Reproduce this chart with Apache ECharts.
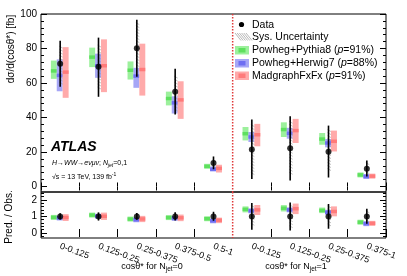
<!DOCTYPE html>
<html><head><meta charset="utf-8">
<script src="https://cdn.jsdelivr.net/npm/echarts@6/dist/echarts.min.js"></script>
<style>html,body{margin:0;padding:0;background:#fff}#c{width:407px;height:276px}</style>
</head><body><div id="c"></div>
<script>
const categories = ['0-0.125','0.125-0.25','0.25-0.375','0.375-0.5','0.5-1','0-0.125','0.125-0.25','0.25-0.375','0.375-1'];
const dataVal   = [71.2, 69.4, 80.2, 54.9, 13.6, 21.5, 22.1, 20.2, 10.3];
const dataErrLo = [57.8, 52.0, 63.6, 41.7, 10.0, 4.3, 3.5, 5.2, 5.8];
const dataErrHi = [84.5, 86.3, 96.7, 68.3, 17.4, 38.8, 40.7, 35.3, 15.0];
const sysLo     = [58.0, 55.0, 68.0, 43.6, 10.7, 6.8, 5.8, 8.0, 6.8];
const sysHi     = [81.4, 82.0, 95.0, 64.0, 15.5, 35.9, 37.8, 33.0, 13.8];
const pythiaC   = [67.0, 75.0, 67.4, 51.0, 11.7, 30.6, 33.0, 27.5, 6.7];
const pythiaLo  = [62.4, 69.2, 62.0, 47.0, 10.3, 26.7, 28.7, 24.2, 5.5];
const pythiaHi  = [73.0, 80.5, 72.5, 55.0, 13.0, 34.5, 37.2, 31.0, 7.8];
const herwigC   = [64.4, 70.0, 64.0, 48.5, 10.0, 28.7, 30.8, 25.2, 5.8];
const herwigLo  = [55.2, 63.0, 57.2, 42.3, 8.7, 25.8, 27.7, 22.7, 4.5];
const herwigHi  = [73.7, 77.0, 68.8, 52.3, 11.6, 31.6, 34.0, 27.5, 7.2];
const madC      = [66.3, 70.0, 67.8, 50.2, 10.5, 30.0, 32.4, 26.2, 6.0];
const madLo     = [51.4, 54.7, 52.7, 39.2, 8.1, 23.3, 25.2, 20.3, 4.5];
const madHi     = [80.8, 85.3, 82.8, 61.0, 12.6, 36.3, 39.2, 32.4, 7.2];
const mainLabels = [0, 20, 40, 60, 80, 100];
const mainMinor = [0,4,8,12,16,20,24,28,32,36,40,44,48,52,56,60,64,68,72,76,80,84,88,92,96,100];
const ratioLabels = [0, 1, 2];
const ratioMinor = [-0.2,0,0.2,0.4,0.6,0.8,1,1.2,1.4,1.6,1.8,2,2.2,2.4];

const FONT = 'Liberation Sans, Arial, Helvetica, sans-serif';
const COL = {
  g: ['#9cf09c', '#5ee05e'],
  b: ['#a6a6f6', '#6e6ef2'],
  r: ['#ffaaaa', '#ff7a7a']
};
const rel = (arr) => arr.map((v, i) => v / dataVal[i]);

function boxSeries(xi, yi, lo, hi, c, off, cols) {
  return {
    type: 'custom', xAxisIndex: xi, yAxisIndex: yi, z: 2,
    data: categories.map((_, i) => [i, lo[i], hi[i], c[i]]),
    encode: { x: 0, y: [1, 2, 3] },
    renderItem: (params, api) => {
      const i = api.value(0);
      const bw = api.size([1, 0])[0];
      const p = api.coord([i, api.value(2)]);
      const q = api.coord([i, api.value(1)]);
      const m = api.coord([i, api.value(3)]);
      const w = bw * 0.155;
      const x = p[0] + bw * off - w / 2;
      const strip = 3.5;
      let y0 = p[1], h = q[1] - p[1];
      if (h < strip + 1.5) { y0 = m[1] - (strip + 1.5) / 2; h = strip + 1.5; }
      return { type: 'group', children: [
        { type: 'rect', shape: { x: x, y: y0, width: w, height: h }, style: { fill: cols[0] } },
        { type: 'rect', shape: { x: x, y: m[1] - strip / 2, width: w, height: strip }, style: { fill: cols[1] } }
      ]};
    }
  };
}
function sysSeries(xi, yi, lo, hi) {
  return {
    type: 'custom', xAxisIndex: xi, yAxisIndex: yi, z: 3,
    data: categories.map((_, i) => [i, lo[i], hi[i]]),
    encode: { x: 0, y: [1, 2] },
    renderItem: (params, api) => {
      const i = api.value(0);
      const p = api.coord([i, api.value(2)]);
      const q = api.coord([i, api.value(1)]);
      const ch = [];
      for (let y = p[1] + 1; y <= q[1] - 1; y += 3) {
        ch.push({ type: 'line', shape: { x1: p[0] - 1, y1: y - 1, x2: p[0] + 2.5, y2: y + 1 },
          style: { stroke: '#999', lineWidth: 0.6 } });
      }
      return { type: 'group', children: ch };
    }
  };
}
function errSeries(xi, yi, lo, hi) {
  return {
    type: 'custom', xAxisIndex: xi, yAxisIndex: yi, z: 4,
    data: categories.map((_, i) => [i, lo[i], hi[i]]),
    encode: { x: 0, y: [1, 2] },
    renderItem: (params, api) => {
      const i = api.value(0);
      const p = api.coord([i, api.value(2)]);
      const q = api.coord([i, api.value(1)]);
      return { type: 'line', shape: { x1: p[0], y1: p[1], x2: q[0], y2: q[1] },
        style: { stroke: '#000', lineWidth: 1.6 } };
    }
  };
}
function dashSeries(xi, yi) {
  return {
    type: 'custom', xAxisIndex: xi, yAxisIndex: yi, z: 6,
    data: [[4]],
    encode: { x: 0 },
    renderItem: (params, api) => {
      const bw = api.size([1, 0])[0];
      const c = api.coord([api.value(0), 0]);
      const x = c[0] + bw / 2;
      const cs = params.coordSys;
      return { type: 'line', shape: { x1: x, y1: cs.y, x2: x, y2: cs.y + cs.height },
        style: { stroke: '#e03a3a', lineWidth: 1.5, lineDash: [1.5, 1.5] } };
    }
  };
}

const tickIntervalFn = (idx) => idx !== 5;
function xAx(gi, pos, showLabel) {
  return {
    type: 'category', gridIndex: gi, position: pos, data: categories, boundaryGap: true,
    axisLine: { show: false },
    axisTick: { show: true, inside: true, length: 4, interval: tickIntervalFn, lineStyle: { color: '#000', width: 1 } },
    axisLabel: showLabel ? { show: true, rotate: -20, fontSize: 9, color: '#000', fontFamily: FONT, margin: 8, interval: 0 } : { show: false },
    splitLine: { show: false }
  };
}
function yAx(gi, pos, min, max, ticks, len, labels) {
  return {
    type: 'value', gridIndex: gi, position: pos, min: min, max: max,
    axisLine: { show: false },
    axisTick: { show: true, inside: true, length: len, customValues: ticks, lineStyle: { color: '#000', width: 1 } },
    axisLabel: labels ? { show: true, customValues: labels, fontSize: 10, color: '#000', fontFamily: FONT, margin: 4 } : { show: false },
    splitLine: { show: false }
  };
}

const chart = echarts.init(document.getElementById('c'), null, { renderer: 'canvas' });
const grids = [
  { left: 41, right: 21, top: 14, height: 178, show: true, borderColor: '#000', borderWidth: 1, backgroundColor: 'transparent' },
  { left: 41, right: 21, top: 192, height: 46, show: true, borderColor: '#000', borderWidth: 1, backgroundColor: 'transparent' }
];
const xAxes = [xAx(0, 'bottom', false), xAx(0, 'top', false), xAx(1, 'top', false), xAx(1, 'bottom', true)];
const yAxes = [
  yAx(0, 'left', -3.2, 100, mainLabels, 6, mainLabels),
  yAx(0, 'left', -3.2, 100, mainMinor, 3, null),
  yAx(0, 'right', -3.2, 100, mainLabels, 6, null),
  yAx(0, 'right', -3.2, 100, mainMinor, 3, null),
  yAx(1, 'left', -0.3, 2.47, ratioLabels, 6, ratioLabels),
  yAx(1, 'left', -0.3, 2.47, ratioMinor, 3, null),
  yAx(1, 'right', -0.3, 2.47, ratioLabels, 6, null),
  yAx(1, 'right', -0.3, 2.47, ratioMinor, 3, null)
];
const ones = dataVal.map(() => 1);
const series = [
  boxSeries(0, 0, pythiaLo, pythiaHi, pythiaC, -0.165, COL.g),
  boxSeries(0, 0, herwigLo, herwigHi, herwigC, -0.012, COL.b),
  boxSeries(0, 0, madLo, madHi, madC, 0.143, COL.r),
  sysSeries(0, 0, sysLo, sysHi),
  errSeries(0, 0, dataErrLo, dataErrHi),
  { type: 'scatter', xAxisIndex: 0, yAxisIndex: 0, z: 5, symbol: 'circle', symbolSize: 6,
    itemStyle: { color: '#000' }, data: dataVal.map((v, i) => [i, v]) },
  dashSeries(0, 0),
  boxSeries(3, 4, rel(pythiaLo), rel(pythiaHi), rel(pythiaC), -0.165, COL.g),
  boxSeries(3, 4, rel(herwigLo), rel(herwigHi), rel(herwigC), -0.012, COL.b),
  boxSeries(3, 4, rel(madLo), rel(madHi), rel(madC), 0.143, COL.r),
  sysSeries(3, 4, rel(sysLo), rel(sysHi)),
  errSeries(3, 4, rel(dataErrLo), rel(dataErrHi)),
  { type: 'scatter', xAxisIndex: 3, yAxisIndex: 4, z: 5, symbol: 'circle', symbolSize: 6,
    itemStyle: { color: '#000' }, data: ones.map((v, i) => [i, v]) },
  dashSeries(3, 4)
];

const legendY = [50.5, 63.5, 76];
const legendNames = ['Powheg+Pythia8 ({it|p}=91%)', 'Powheg+Herwig7 ({it|p}=88%)', 'MadgraphFxFx ({it|p}=91%)'];
const legendCols = [COL.g, COL.b, COL.r];
const graphic = [];
graphic.push({ type: 'circle', shape: { cx: 241.5, cy: 24.5, r: 2.6 }, style: { fill: '#000' }, z: 10 });
graphic.push({ type: 'text', x: 252, y: 25, style: { text: 'Data', font: '10.5px ' + FONT, fill: '#000', verticalAlign: 'middle' }, z: 10 });
for (let k = 0; k < 6; k++) {
  graphic.push({ type: 'line', shape: { x1: 235 + k * 2.2, y1: 33, x2: 241 + k * 2.2, y2: 40.5 }, style: { stroke: '#888', lineWidth: 0.6 }, z: 10 });
}
graphic.push({ type: 'text', x: 252, y: 37.5, style: { text: 'Sys. Uncertainty', font: '10.5px ' + FONT, fill: '#000', verticalAlign: 'middle' }, z: 10 });
legendY.forEach((y, k) => {
  graphic.push({ type: 'rect', shape: { x: 235, y: y - 4.5, width: 14, height: 8.5 }, style: { fill: legendCols[k][0] }, z: 10 });
  graphic.push({ type: 'rect', shape: { x: 238.5, y: y - 2.5, width: 7, height: 4.5 }, style: { fill: legendCols[k][1] }, z: 10 });
  graphic.push({ type: 'text', x: 252, y: y, style: { text: legendNames[k], fontSize: 10.5, fontFamily: FONT, fill: '#000', verticalAlign: 'middle',
    rich: { it: { fontStyle: 'italic', fontSize: 10.5, fontFamily: FONT } } }, z: 10 });
});
graphic.push({ type: 'text', x: 11, y: 49, rotation: Math.PI / 2,
  style: { text: 'dσ/d(cosθ*) [fb]', font: '10px ' + FONT, fill: '#000', align: 'center', verticalAlign: 'middle' }, z: 10 });
graphic.push({ type: 'text', x: 9, y: 217, rotation: Math.PI / 2,
  style: { text: 'Pred. / Obs.', font: '10px ' + FONT, fill: '#000', align: 'center', verticalAlign: 'middle' }, z: 10 });
graphic.push({ type: 'text', x: 51, y: 147,
  style: { text: 'ATLAS', font: 'italic bold 14px ' + FONT, fill: '#000', verticalAlign: 'middle' }, z: 10 });
graphic.push({ type: 'text', x: 52, y: 163.5,
  style: { text: '{i|H→WW→eνμν}; {i|N}{sub|jet}=0,1', fontSize: 7, fontFamily: FONT, fill: '#000', verticalAlign: 'middle',
    rich: { i: { fontStyle: 'italic', fontSize: 7, fontFamily: FONT }, sub: { fontStyle: 'italic', fontSize: 5, fontFamily: FONT, padding: [4, 0, 0, 0] } } }, z: 10 });
graphic.push({ type: 'text', x: 52, y: 177,
  style: { text: '√s = 13 TeV, 139 fb{sup|-1}', fontSize: 7, fontFamily: FONT, fill: '#000', verticalAlign: 'middle',
    rich: { sup: { fontSize: 5, fontFamily: FONT, padding: [0, 0, 4, 0] } } }, z: 10 });
graphic.push({ type: 'text', x: 152, y: 267,
  style: { text: 'cosθ* for N{sub|jet}=0', fontSize: 9, fontFamily: FONT, fill: '#000', align: 'center', verticalAlign: 'middle',
    rich: { sub: { fontSize: 6.5, fontFamily: FONT, padding: [4, 0, 0, 0] } } }, z: 10 });
graphic.push({ type: 'text', x: 296, y: 267,
  style: { text: 'cosθ* for N{sub|jet}=1', fontSize: 9, fontFamily: FONT, fill: '#000', align: 'center', verticalAlign: 'middle',
    rich: { sub: { fontSize: 6.5, fontFamily: FONT, padding: [4, 0, 0, 0] } } }, z: 10 });

chart.setOption({
  animation: false,
  backgroundColor: '#fff',
  textStyle: { fontFamily: FONT },
  grid: grids,
  xAxis: xAxes,
  yAxis: yAxes,
  series: series,
  graphic: graphic
});
</script>
</body></html>
